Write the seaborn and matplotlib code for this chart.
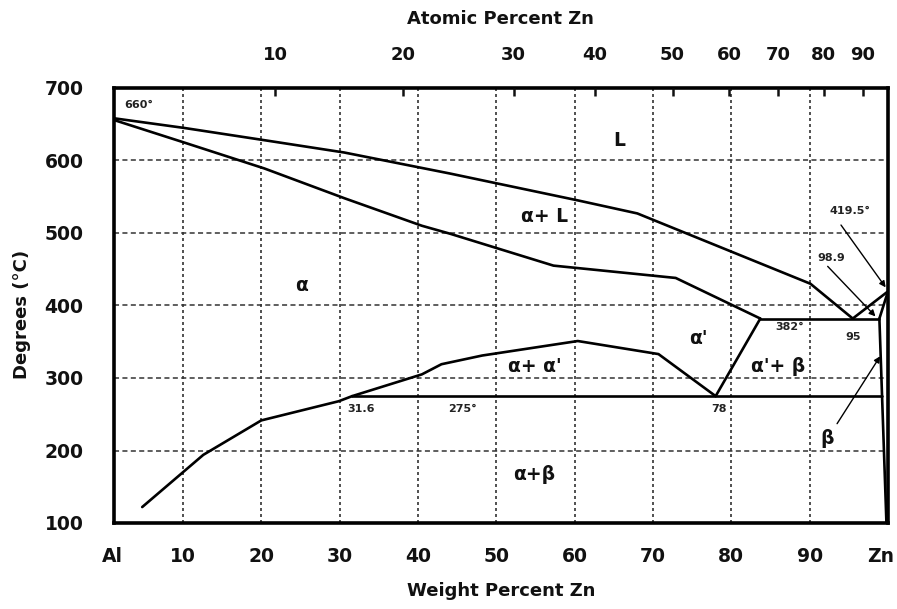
import matplotlib
matplotlib.use('Agg')
import matplotlib.pyplot as plt
import matplotlib.transforms as mtrans
import seaborn as sns
import pandas as pd

# ---- data (wt% Zn, temperature °C) ----
liquidus_wt = [0, 10.1, 20.4, 30.6, 44.1, 60.4, 68.0, 90.1, 95.5, 100]
liquidus_T = [660, 645, 628, 611, 582, 545, 527, 430, 382, 419.5]

solidus_wt = [0, 10.1, 20.4, 30.6, 40.5, 44.1, 57.3, 72.9, 83.7]
solidus_T = [660, 625, 589, 548, 510, 499, 455, 438, 382]

eutectic_wt = [83.7, 98.9]
eutectic_T = [382, 382]

aprime_wt = [83.7, 78.0]
aprime_T = [382, 275]

monotectoid_wt = [31.6, 99.2]
monotectoid_T = [275, 275]

gap_wt = [31.6, 40.5, 43.0, 48.2, 60.4, 70.7, 78.0]
gap_T = [275, 305, 319, 331, 351, 333, 275]

solvus_wt = [4.8, 12.6, 20.0, 29.9, 31.6]
solvus_T = [122, 194, 241.5, 268, 275]

beta_sol_wt = [98.9, 100]
beta_sol_T = [382, 419.5]

beta_solvus_wt = [98.9, 99.8]
beta_solvus_T = [382, 100]

bottom_ticks = [1.2, 10, 20, 30, 40, 50, 60, 70, 80, 90, 100]
bottom_labels = ['Al', '10', '20', '30', '40', '50', '60', '70', '80', '90', 'Zn']
left_ticks = [100, 200, 300, 400, 500, 600, 700]
top_tick_wt = [21.8, 38.1, 52.2, 62.6, 72.5, 79.7, 86.0, 91.8, 96.8]
top_labels = ['10', '20', '30', '40', '50', '60', '70', '80', '90']

region_labels = ['L', 'α+ L', 'α', "α'", "α+ α'", "α'+ β", 'α+β', 'β']
region_wt = [65.7, 56.1, 25.2, 75.8, 54.9, 86.0, 54.9, 92.2]
region_T = [627, 523, 428, 355, 316, 316, 167, 216]

small_labels = ['660°', '31.6', '275°', '78', '382°', '95', '419.5°', '98.9']
small_wt = [4.4, 32.8, 45.7, 78.4, 87.5, 95.6, 95.1, 92.7]
small_T = [676, 257, 257, 257, 370, 356, 531, 465]

# arrows: (tail wt, tail T) -> (head wt, head T)
arrow_tail_wt = [94.0, 92.3, 93.5]
arrow_tail_T = [511, 454, 237]
arrow_head_wt = [99.7, 98.4, 99.0]
arrow_head_T = [425, 385, 330]

# ---- build long table ----
parts = [
    ('liquidus', liquidus_wt, liquidus_T),
    ('solidus', solidus_wt, solidus_T),
    ('eutectic', eutectic_wt, eutectic_T),
    ('aprime', aprime_wt, aprime_T),
    ('monotectoid', monotectoid_wt, monotectoid_T),
    ('gap', gap_wt, gap_T),
    ('solvus', solvus_wt, solvus_T),
    ('beta_sol', beta_sol_wt, beta_sol_T),
    ('beta_solvus', beta_solvus_wt, beta_solvus_T),
]
rows = []
for name, xs, ys in parts:
    for i, (x, y) in enumerate(zip(xs, ys)):
        rows.append({'boundary': name, 'order': i, 'wt': x, 'T': y})
df = pd.DataFrame(rows)

sns.set_theme(style='white')
plt.rcParams['font.family'] = ['DejaVu Sans']
plt.rcParams['font.weight'] = 'bold'

fig = plt.figure(figsize=(8.97, 6.09), dpi=100)
ax = fig.add_axes([114 / 897, 1 - 523 / 609, (888 - 114) / 897, (523 - 88) / 609])

sns.lineplot(data=df, x='wt', y='T', units='boundary', estimator=None, sort=False,
             color='black', linewidth=1.9, ax=ax, legend=False)

ax.set_xlim(1.2, 100)
ax.set_ylim(100, 700)
ax.set_xticks(bottom_ticks)
ax.set_xticklabels(bottom_labels, fontsize=13.5, fontweight='bold')
ax.set_yticks(left_ticks)
ax.set_yticklabels([str(v) for v in left_ticks], fontsize=13.5, fontweight='bold')
ax.tick_params(axis='x', length=0, pad=17, colors='#111111')
ax.tick_params(axis='y', length=0, pad=22, colors='#111111')
ax.grid(True, axis='x', color='#333333', linestyle=(0, (1.8, 1.8)), linewidth=1.2)
ax.grid(True, axis='y', color='#333333', linestyle=(0, (3.3, 2.2)), linewidth=1.1)
ax.set_xlabel('')
ax.set_ylabel('')
for s in ax.spines.values():
    s.set_color('black')
    s.set_linewidth(2.6)
    s.set_zorder(5)

# nudge the end labels like the reference
lbls = ax.get_xticklabels()
lbls[-1].set_transform(lbls[-1].get_transform() + mtrans.ScaledTranslation(-7 / 100, 0, fig.dpi_scale_trans))
lbls[0].set_transform(lbls[0].get_transform() + mtrans.ScaledTranslation(-2 / 100, 0, fig.dpi_scale_trans))

top = ax.twiny()
top.set_xlim(1.2, 100)
top.set_xticks(top_tick_wt)
top.set_xticklabels(top_labels, fontsize=13, fontweight='bold')
top.tick_params(axis='x', direction='in', length=6, width=1.8, pad=17, colors='#111111')
top.grid(False)
for s in top.spines.values():
    s.set_visible(False)

for t, x, y in zip(region_labels, region_wt, region_T):
    ax.text(x, y, t, fontsize=13.5, fontweight='bold', ha='center', va='center', color='#111111')
for t, x, y in zip(small_labels, small_wt, small_T):
    ax.text(x, y, t, fontsize=8, fontweight='bold', ha='center', va='center', color='#222222')

for x0, y0, x1, y1 in zip(arrow_tail_wt, arrow_tail_T, arrow_head_wt, arrow_head_T):
    ax.annotate('', xy=(x1, y1), xytext=(x0, y0),
                arrowprops=dict(arrowstyle='-|>', color='black', lw=1.0, mutation_scale=9,
                                shrinkA=0, shrinkB=0))

fig.text(500 / 897, 1 - 19 / 609, 'Atomic Percent Zn', fontsize=13, fontweight='bold',
         ha='center', va='center', color='#111111')
fig.text(501 / 897, 1 - 591 / 609, 'Weight Percent Zn', fontsize=13, fontweight='bold',
         ha='center', va='center', color='#111111')
fig.text(22 / 897, 1 - 314 / 609, 'Degrees (°C)', fontsize=13, fontweight='bold',
         ha='center', va='center', rotation=90, color='#111111')

fig.savefig('out.png', dpi=100, facecolor='white')
